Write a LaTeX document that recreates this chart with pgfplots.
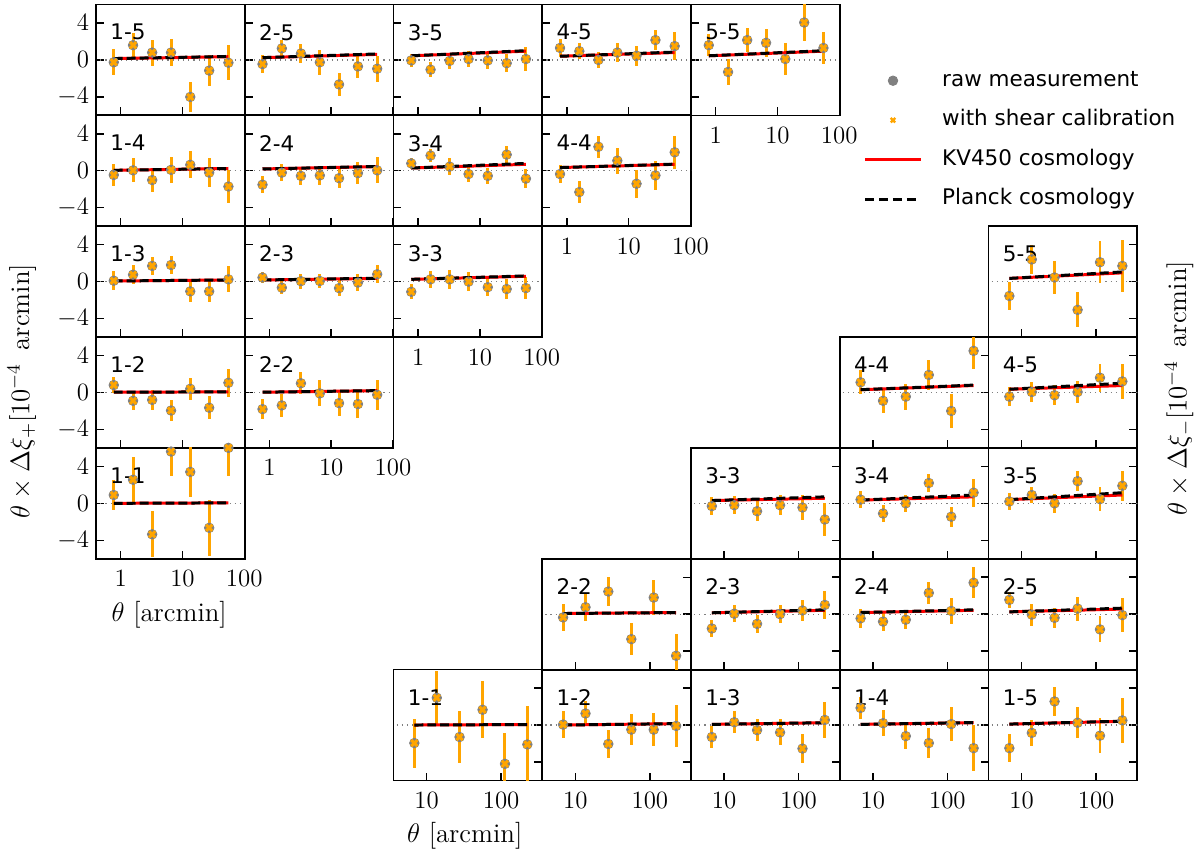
\RequirePackage{fix-cm}
\documentclass[border=0pt]{standalone}
\usepackage{fontspec}
\newfontfamily\dejavu{DejaVu Sans}
\usepackage{pgfplots}
\pgfplotsset{compat=1.18}

\definecolor{mplorange}{HTML}{FFA500}
\definecolor{mplgray}{HTML}{808080}

% 1 px of the reference = 0.5pt
\pgfplotsset{
  kvbase/.style={
    scale only axis, width=74.75pt, height=55.75pt,
    ymin=-6, ymax=6, ytick={-4,0,4},
    tick align=inside, major tick length=4pt,
    axis line style={line width=0.9pt},
    every tick/.style={black, line width=0.7pt},
    tick label style={font=\fontsize{12.5}{12.5}\selectfont},
    xticklabel style={yshift=-2.5pt},
    anchor=north west, clip=true,
  },
  kvleft/.style={kvbase, xmin=0.4, xmax=102, xtick={1,10,100},
    xtick pos=bottom, ytick pos=left},
  kvright/.style={kvbase, xmin=3.6, xmax=357, xtick={10,100},
    xtick pos=bottom, ytick pos=right, yticklabels={}},
}

% #1 style, #2 column, #3 row, #4 label, #5 options, #6 points, #7 models
\newcommand{\panel}[7]{%
  \pgfmathsetmacro\pnx{(96.5+149.5*#2)*0.5}%
  \pgfmathsetmacro\pny{-(4.5+111.4*#3)*0.5}%
  \begin{axis}[xmode=log, xminorticks=false, log ticks with fixed point,
      #1, at={(\pnx pt,\pny pt)}, #5]
    \addplot[mplgray, dotted, line width=0.6pt] coordinates {(0.1,0) (1000,0)};
    \addplot[only marks, mark=*, mplgray, mark size=2.4pt]
      table[row sep=\\, x=t, y=v] {#6};
    \addplot[only marks, mark=x, mplorange, mark size=2.2pt, line width=1.5pt,
      error bars/.cd, y dir=both, y explicit, error mark=none,
      error bar style={line width=1.5pt, mplorange}]
      table[row sep=\\, x=t, y=v, y error=e] {#6};
    \addplot[red, line width=1.5pt] table[row sep=\\, x=t, y=k] {#7};
    \addplot[black, line width=1.5pt, dash pattern=on 4.5pt off 2pt]
      table[row sep=\\, x=t, y=p] {#7};
    \node[anchor=north west, inner sep=0pt, font=\dejavu\fontsize{10.8}{10.8}\selectfont]
      at ([xshift=7pt, yshift=-9.75pt]rel axis cs:0,1) {#4};
  \end{axis}}

\begin{document}
\begin{tikzpicture}
\path (0,0) rectangle (600pt,-431.5pt);

% ---------- xi_+ (left triangle) ----------
\panel{kvleft}{0}{0}{1-5}{xticklabels={}}
 {t v e\\ 0.775 -0.25 1.4\\ 1.59 1.6 1.3\\ 3.24 0.8 1.4\\ 6.55 0.8 1.45\\ 13.4 -4.0 1.6\\ 27.1 -1.15 1.7\\ 55.5 -0.3 1.9\\}
 {t k p\\ 0.775 0.15 0.15\\ 55.5 0.35 0.38\\}
\panel{kvleft}{1}{0}{2-5}{xticklabels={}, yticklabels={}}
 {t v e\\ 0.775 -0.45 1.0\\ 1.59 1.25 0.95\\ 3.24 0.7 1.0\\ 6.55 -0.25 1.35\\ 13.4 -2.65 1.2\\ 27.1 -0.7 1.3\\ 55.5 -0.95 1.4\\}
 {t k p\\ 0.775 0.25 0.25\\ 55.5 0.6 0.65\\}
\panel{kvleft}{2}{0}{3-5}{xticklabels={}, yticklabels={}}
 {t v e\\ 0.775 -0.05 0.7\\ 1.59 -1.05 0.8\\ 3.24 -0.1 0.9\\ 6.55 0.1 0.9\\ 13.4 -0.05 0.9\\ 27.1 -0.35 1.0\\ 55.5 0.1 1.3\\}
 {t k p\\ 0.775 0.45 0.45\\ 55.5 0.95 1.0\\}
\panel{kvleft}{3}{0}{4-5}{xticklabels={}, yticklabels={}}
 {t v e\\ 0.775 1.3 1.0\\ 1.59 0.95 0.9\\ 3.24 0.0 0.9\\ 6.55 0.8 1.0\\ 13.4 0.45 1.1\\ 27.1 2.15 1.1\\ 55.5 1.5 1.5\\}
 {t k p\\ 0.775 0.4 0.4\\ 55.5 0.8 0.85\\}
\panel{kvleft}{4}{0}{5-5}{yticklabels={}}
 {t v e\\ 0.775 1.6 1.2\\ 1.59 -1.3 1.4\\ 3.24 2.15 1.3\\ 6.55 1.85 1.5\\ 13.4 0.1 1.7\\ 27.1 4.05 2.0\\ 55.5 1.3 1.7\\}
 {t k p\\ 0.775 0.45 0.45\\ 55.5 0.95 1.0\\}

\panel{kvleft}{0}{1}{1-4}{xticklabels={}}
 {t v e\\ 0.775 -0.45 1.2\\ 1.59 0.05 1.3\\ 3.24 -1.0 1.3\\ 6.55 0.1 1.4\\ 13.4 0.65 1.45\\ 27.1 -0.2 1.55\\ 55.5 -1.7 1.8\\}
 {t k p\\ 0.775 0.05 0.05\\ 55.5 0.25 0.25\\}
\panel{kvleft}{1}{1}{2-4}{xticklabels={}, yticklabels={}}
 {t v e\\ 0.775 -1.5 0.9\\ 1.59 -0.2 0.9\\ 3.24 -0.55 0.95\\ 6.55 -0.5 1.0\\ 13.4 -0.8 1.1\\ 27.1 -0.25 1.2\\ 55.5 0.05 1.4\\}
 {t k p\\ 0.775 0.2 0.2\\ 55.5 0.45 0.47\\}
\panel{kvleft}{2}{1}{3-4}{xticklabels={}, yticklabels={}}
 {t v e\\ 0.775 0.8 0.6\\ 1.59 1.65 0.7\\ 3.24 0.45 0.9\\ 6.55 -0.35 0.9\\ 13.4 -0.55 0.9\\ 27.1 1.75 0.9\\ 55.5 -0.85 1.0\\}
 {t k p\\ 0.775 0.3 0.3\\ 55.5 0.7 0.8\\}
\panel{kvleft}{3}{1}{4-4}{yticklabels={}}
 {t v e\\ 0.775 -0.35 1.0\\ 1.59 -2.3 1.2\\ 3.24 2.6 1.2\\ 6.55 1.1 1.4\\ 13.4 -1.4 1.5\\ 27.1 -0.5 1.6\\ 55.5 2.0 1.8\\}
 {t k p\\ 0.775 0.35 0.35\\ 55.5 0.7 0.72\\}

\panel{kvleft}{0}{2}{1-3}{xticklabels={}}
 {t v e\\ 0.775 0.1 1.0\\ 1.59 0.75 1.0\\ 3.24 1.7 1.0\\ 6.55 1.8 1.0\\ 13.4 -1.05 1.15\\ 27.1 -1.05 1.2\\ 55.5 0.25 1.4\\}
 {t k p\\ 0.775 0.07 0.07\\ 55.5 0.18 0.18\\}
\panel{kvleft}{1}{2}{2-3}{xticklabels={}, yticklabels={}}
 {t v e\\ 0.775 0.45 0.6\\ 1.59 -0.65 0.7\\ 3.24 0.05 0.8\\ 6.55 0.07 0.8\\ 13.4 -0.7 0.9\\ 27.1 -0.1 0.9\\ 55.5 0.8 1.0\\}
 {t k p\\ 0.775 0.18 0.18\\ 55.5 0.35 0.37\\}
\panel{kvleft}{2}{2}{3-3}{yticklabels={}}
 {t v e\\ 0.775 -1.1 0.8\\ 1.59 0.25 0.9\\ 3.24 0.25 1.0\\ 6.55 0.0 1.0\\ 13.4 -0.6 1.0\\ 27.1 -0.8 1.1\\ 55.5 -0.7 1.2\\}
 {t k p\\ 0.775 0.25 0.25\\ 55.5 0.58 0.62\\}

\panel{kvleft}{0}{3}{1-2}{xticklabels={}}
 {t v e\\ 0.775 0.8 0.9\\ 1.59 -0.9 1.0\\ 3.24 -0.8 1.1\\ 6.55 -1.95 1.1\\ 13.4 0.4 1.2\\ 27.1 -1.65 1.25\\ 55.5 1.05 1.5\\}
 {t k p\\ 0.775 0.03 0.03\\ 55.5 0.07 0.07\\}
\panel{kvleft}{1}{3}{2-2}{yticklabels={}}
 {t v e\\ 0.775 -1.8 1.1\\ 1.59 -1.4 1.2\\ 3.24 1.0 1.2\\ 6.55 -0.1 1.4\\ 13.4 -1.15 1.4\\ 27.1 -1.25 1.55\\ 55.5 -0.25 1.6\\}
 {t k p\\ 0.775 0.03 0.03\\ 55.5 0.2 0.2\\}

\panel{kvleft}{0}{4}{1-1}{}
 {t v e\\ 0.775 0.9 1.65\\ 1.59 2.55 2.45\\ 3.24 -3.35 2.5\\ 6.55 5.6 2.6\\ 13.4 3.4 2.7\\ 27.1 -2.65 3.0\\ 55.5 6.0 3.0\\}
 {t k p\\ 0.775 0.0 0.0\\ 55.5 0.05 0.05\\}

% ---------- xi_- (right triangle) ----------
\panel{kvright}{2}{6}{1-1}{}
 {t v e\\ 6.85 -1.95 2.65\\ 13.7 2.95 2.9\\ 27.7 -1.3 2.85\\ 56.4 1.65 3.1\\ 112.7 -4.2 3.3\\ 225 -2.1 4.2\\}
 {t k p\\ 6.85 0.0 0.0\\ 225 0.05 0.05\\}
\panel{kvright}{3}{6}{1-2}{}
 {t v e\\ 6.85 0.05 1.45\\ 13.7 1.25 1.4\\ 27.7 -2.05 1.5\\ 56.4 -0.5 1.7\\ 112.7 -0.5 1.8\\ 225 -0.1 2.3\\}
 {t k p\\ 6.85 0.0 0.0\\ 225 0.15 0.15\\}
\panel{kvright}{4}{6}{1-3}{}
 {t v e\\ 6.85 -1.3 1.2\\ 13.7 0.3 1.2\\ 27.7 -0.55 1.2\\ 56.4 -0.8 1.4\\ 112.7 -2.55 1.6\\ 225 0.55 1.9\\}
 {t k p\\ 6.85 0.07 0.07\\ 225 0.25 0.25\\}
\panel{kvright}{5}{6}{1-4}{}
 {t v e\\ 6.85 1.85 1.2\\ 13.7 0.2 1.4\\ 27.7 -1.2 1.4\\ 56.4 -1.95 1.6\\ 112.7 0.1 1.8\\ 225 -2.5 2.5\\}
 {t k p\\ 6.85 0.07 0.07\\ 225 0.25 0.27\\}
\panel{kvright}{6}{6}{1-5}{}
 {t v e\\ 6.85 -2.5 1.5\\ 13.7 -0.85 1.4\\ 27.7 2.55 1.6\\ 56.4 0.25 1.7\\ 112.7 -1.15 1.9\\ 225 0.5 2.4\\}
 {t k p\\ 6.85 0.1 0.1\\ 225 0.4 0.42\\}

\panel{kvright}{3}{5}{2-2}{xticklabels={}}
 {t v e\\ 6.85 -0.35 1.45\\ 13.7 0.75 1.45\\ 27.7 2.45 1.6\\ 56.4 -2.7 1.7\\ 112.7 1.8 1.9\\ 225 -4.5 2.4\\}
 {t k p\\ 6.85 0.07 0.07\\ 225 0.18 0.18\\}
\panel{kvright}{4}{5}{2-3}{xticklabels={}}
 {t v e\\ 6.85 -1.55 0.9\\ 13.7 0.05 0.9\\ 27.7 -1.05 1.0\\ 56.4 0.0 1.0\\ 112.7 0.4 1.15\\ 225 1.0 1.5\\}
 {t k p\\ 6.85 0.15 0.15\\ 225 0.42 0.47\\}
\panel{kvright}{5}{5}{2-4}{xticklabels={}}
 {t v e\\ 6.85 -0.45 1.0\\ 13.7 -0.8 1.0\\ 27.7 -0.6 1.0\\ 56.4 2.3 1.2\\ 112.7 0.35 1.4\\ 225 3.4 1.7\\}
 {t k p\\ 6.85 0.18 0.18\\ 225 0.42 0.47\\}
\panel{kvright}{6}{5}{2-5}{xticklabels={}}
 {t v e\\ 6.85 1.55 0.9\\ 13.7 -0.05 1.2\\ 27.7 -0.4 1.1\\ 56.4 0.6 1.3\\ 112.7 -1.65 1.4\\ 225 -0.1 1.8\\}
 {t k p\\ 6.85 0.25 0.25\\ 225 0.55 0.65\\}

\panel{kvright}{4}{4}{3-3}{xticklabels={}}
 {t v e\\ 6.85 -0.3 1.0\\ 13.7 -0.2 1.0\\ 27.7 -0.85 1.1\\ 56.4 -0.2 1.1\\ 112.7 -0.45 1.3\\ 225 -1.75 1.8\\}
 {t k p\\ 6.85 0.3 0.3\\ 225 0.55 0.7\\}
\panel{kvright}{5}{4}{3-4}{xticklabels={}}
 {t v e\\ 6.85 0.4 0.9\\ 13.7 -1.1 0.9\\ 27.7 0.0 0.95\\ 56.4 2.2 1.0\\ 112.7 -1.45 1.1\\ 225 1.15 1.5\\}
 {t k p\\ 6.85 0.35 0.35\\ 225 0.7 0.9\\}
\panel{kvright}{6}{4}{3-5}{xticklabels={}}
 {t v e\\ 6.85 0.2 0.95\\ 13.7 0.9 0.9\\ 27.7 0.0 1.0\\ 56.4 2.4 1.1\\ 112.7 0.45 1.3\\ 225 1.9 1.6\\}
 {t k p\\ 6.85 0.4 0.4\\ 225 0.9 1.15\\}

\panel{kvright}{5}{3}{4-4}{xticklabels={}}
 {t v e\\ 6.85 1.1 1.3\\ 13.7 -0.9 1.3\\ 27.7 -0.45 1.4\\ 56.4 1.9 1.6\\ 112.7 -2.0 1.8\\ 225 4.5 2.0\\}
 {t k p\\ 6.85 0.3 0.3\\ 225 0.75 0.8\\}
\panel{kvright}{6}{3}{4-5}{xticklabels={}}
 {t v e\\ 6.85 -0.45 1.0\\ 13.7 0.05 1.1\\ 27.7 -0.3 1.1\\ 56.4 0.05 1.2\\ 112.7 1.6 1.5\\ 225 1.2 1.9\\}
 {t k p\\ 6.85 0.35 0.35\\ 225 0.75 1.0\\}

\panel{kvright}{6}{2}{5-5}{xticklabels={}}
 {t v e\\ 6.85 -1.55 1.5\\ 13.7 2.4 1.6\\ 27.7 0.45 1.8\\ 56.4 -3.05 1.9\\ 112.7 2.1 2.3\\ 225 1.7 2.8\\}
 {t k p\\ 6.85 0.35 0.35\\ 225 0.95 1.05\\}

% ---------- axis labels ----------
\node[rotate=90, font=\fontsize{13.5}{13.5}\selectfont] at (11pt,-196.5pt)
  {$\theta\times\Delta\xi_+[10^{-4}\ \,\mathrm{arcmin}]$};
\node[rotate=90, font=\fontsize{13.5}{13.5}\selectfont] at (592.5pt,-195pt)
  {$\theta\times\Delta\xi_-[10^{-4}\ \,\mathrm{arcmin}]$};
\node[font=\fontsize{13.5}{13.5}\selectfont] at (85pt,-309pt) {$\theta$ [arcmin]};
\node[font=\fontsize{13.5}{13.5}\selectfont] at (233.5pt,-420pt) {$\theta$ [arcmin]};

% ---------- legend ----------
\begin{axis}[at={(0pt,0pt)}, anchor=north west, scale only axis,
  width=600pt, height=431.5pt, hide axis, xmin=0, xmax=1, ymin=0, ymax=1,
  legend cell align=left,
  legend image code/.code={\draw[mark repeat=2, mark phase=2, #1]
    plot coordinates {(0pt,0pt) (14pt,0pt) (28pt,0pt)};},
  legend style={at={(0.7233,0.9207)}, anchor=north west, draw=none, fill=none,
    inner sep=0pt, outer sep=0pt, row sep=7.15pt, column sep=9pt,
    font=\dejavu\fontsize{10.8}{10.8}\selectfont,
    nodes={inner sep=1pt, text height=8pt, text depth=2.7pt}}]
  \addlegendimage{only marks, mark=*, mplgray, mark size=2.4pt}
  \addlegendentry{raw measurement}
  \addlegendimage{only marks, mark=x, mplorange, mark size=1.6pt, line width=1.2pt}
  \addlegendentry{with shear calibration}
  \addlegendimage{red, line width=1.5pt}
  \addlegendentry{KV450 cosmology}
  \addlegendimage{black, line width=1.5pt, dash pattern=on 4.5pt off 2.5pt}
  \addlegendentry{Planck cosmology}
\end{axis}
\end{tikzpicture}
\end{document}
